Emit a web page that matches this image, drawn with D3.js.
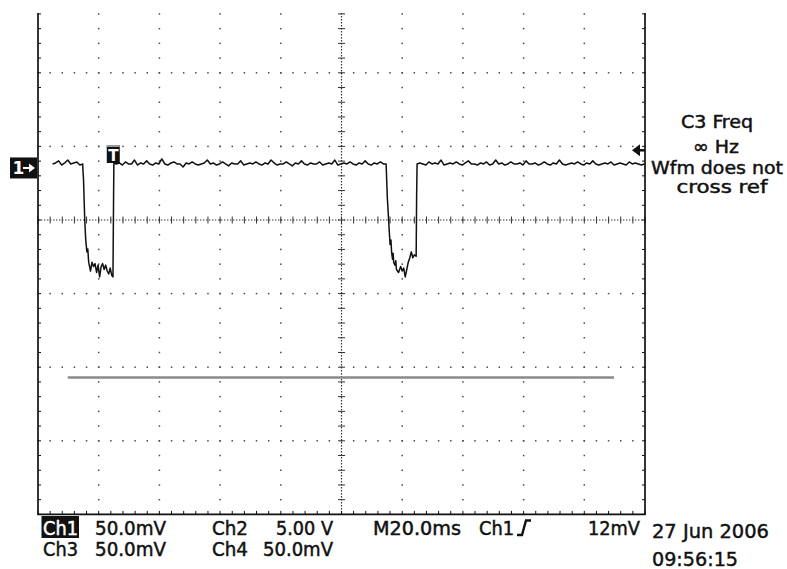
<!DOCTYPE html>
<html>
<head>
<meta charset="utf-8">
<script src="https://cdn.jsdelivr.net/npm/d3@7/dist/d3.min.js"></script>
<style>
  html, body { margin: 0; padding: 0; background: #fff; }
  svg { display: block; }
</style>
</head>
<body>
<svg id="scope" width="787" height="569"></svg>
<script>
// ---- Acquisition settings ----
const timePerDiv = 20;          // ms / div (M20.0ms)
const ch1MvPerDiv = 50;         // mV / div
const refMvPerDiv = 50;         // mV / div of the grey reference trace
const triggerLevelMv = 12;      // Ch1 rising-edge trigger level
const hDivs = 10;
const vDivs = 8;
const ch1OffsetDiv = 0.707;     // Ch1 ground position, divisions above centre
const timeAtLeftMs = -24.8;     // trigger point is t = 0

// ---- Ch1 trace (ms, mV) ----
// baseline before the first pulse, 1 ms steps from -20 ms
const baseAStart = -20;
const baseA = [2.7, 3.4, 4.8, 2.0, 3.4, 5.4, 2.7, 3.4, 4.1, 2.0, 2.7];

// first low pulse, ending on the trigger edge
const pulse1 = [
  [-10.1, 2.7], [-9.8, -8], [-9.4, -35], [-9.1, -48], [-8.7, -57], [-8.4, -55],
  [-8.1, -64], [-7.7, -68], [-7.5, -70], [-7.0, -64], [-6.5, -67], [-6.0, -65],
  [-5.5, -71], [-5.0, -66], [-4.5, -74], [-4.0, -67], [-3.5, -65], [-3.0, -69],
  [-2.5, -66], [-2.0, -70], [-1.5, -72], [-1.0, -68], [-0.5, -73], [-0.1, -74],
  [0.1, -20], [0.2, 3.4]
];

// baseline between the pulses, 1 ms steps from 1 ms
const baseBStart = 1;
const baseB = [
  2.7, 3.4, 2.0, 4.1, 2.7, 2.7, 5.4, 2.0, 3.4, 2.7,
  4.8, 2.7, 2.0, 3.4, 2.7, 6.1, 2.7, 2.0, 3.4, 4.1,
  2.7, 2.7, 0.7, 3.4, 2.7, 4.1, 2.7, 2.0, 2.7, 3.4,
  5.4, 2.7, 3.4, 2.0, 2.7, 4.1, 2.7, 1.4, 3.4, 2.7,
  2.7, 4.8, 2.0, 2.7, 3.4, 2.7, 4.1, 2.7, 2.0, 3.4,
  2.7, 5.4, 3.4, 2.0, 2.7, 2.7, 4.1, 2.7, 1.4, 3.4,
  2.7, 4.8, 2.7, 2.0, 3.4, 2.7, 2.7, 4.1, 2.0, 2.7,
  3.4, 2.7, 5.4, 2.0, 2.7, 3.4, 2.7, 4.1, 2.7, 2.0,
  3.4, 2.7, 4.8, 2.7, 2.0, 3.4, 2.7, 4.1, 2.7
];

// second low pulse
const pulse2 = [
  [89.9, 2.7], [90.3, -20], [90.8, -38], [91.2, -52], [91.5, -49], [91.7, -57],
  [92.0, -62], [92.2, -58], [92.4, -64], [92.8, -66], [93.1, -63], [93.3, -69],
  [94.0, -71], [94.7, -67], [95.2, -70], [95.7, -68], [96.2, -74], [96.7, -69],
  [97.2, -64], [97.7, -61], [98.2, -57], [98.7, -61], [99.2, -59], [99.8, -60],
  [99.95, -20], [100.1, 2.7]
];

// baseline after the second pulse, 1 ms steps from 101 ms
const baseCStart = 101;
const baseC = [
  3.4, 2.7, 2.0, 4.1, 2.7, 3.4, 2.7, 5.4, 2.0, 2.7,
  3.4, 2.7, 4.1, 2.7, 2.0, 3.4, 4.8, 2.7, 2.7, 2.0,
  3.4, 2.7, 4.1, 2.0, 2.7, 5.4, 2.7, 3.4, 2.0, 2.7,
  4.1, 2.7, 2.7, 3.4, 2.0, 4.8, 2.7, 2.7, 3.4, 2.0,
  2.7, 4.1, 2.7, 2.0, 3.4, 2.7, 5.4, 2.7, 2.0, 2.7,
  3.4, 2.7, 4.1, 2.7, 2.0, 3.4, 2.7, 4.8, 2.7, 2.0,
  2.7, 3.4, 2.7, 4.1, 2.0, 2.7, 3.4, 2.7, 2.0, 4.1,
  2.7, 3.4, 2.7, 2.0, 2.7
];

// grey reference trace (ms, mV about screen centre)
const refTrace = [[-15, -107], [165, -107]];

// ---- Readout texts ----
const measLines = ["C3 Freq", "\u221E Hz", "Wfm does not", "cross ref"];
const readRow1 = ["Ch1", "50.0mV", "Ch2", "5.00 V", "M20.0ms", "Ch1", "12mV"];
const readRow2 = ["Ch3", "50.0mV", "Ch4", "50.0mV"];
const dateLines = ["27 Jun 2006", "09:56:15"];

// ---------------------------------------------------------------
const svg = d3.select("#scope");
const FONT = "'Liberation Sans Narrow', 'DejaVu Sans Condensed', 'DejaVu Sans', sans-serif";

const left = 38, right = 645, bottom = 514.4, divH = 73.6, visTop = 13;
const x = d3.scaleLinear()
  .domain([timeAtLeftMs, timeAtLeftMs + hDivs * timePerDiv])
  .range([left, right]);
const xDiv = d3.scaleLinear().domain([0, hDivs]).range([left, right]);
const yDiv = d3.scaleLinear()
  .domain([-vDivs / 2, vDivs / 2])
  .range([bottom, bottom - vDivs * divH]);

const ch1Y = mv => yDiv(mv / ch1MvPerDiv + ch1OffsetDiv);
const refY = mv => yDiv(mv / refMvPerDiv);

svg.append("defs").append("clipPath").attr("id", "screen")
  .append("rect").attr("x", 0).attr("y", visTop).attr("width", 787).attr("height", 569 - visTop);

const scr = svg.append("g").attr("clip-path", "url(#screen)");

// ---- graticule ----
const minorY = d3.range(-vDivs * 5 / 2, vDivs * 5 / 2 + 1).map(m => yDiv(m / 5))
  .filter(v => v >= visTop - 0.5 && v <= bottom + 0.5);
const minorX = d3.range(0, hDivs * 5 + 1).map(n => xDiv(n / 5));
const gridCols = d3.range(1, hDivs).filter(i => i !== hDivs / 2);
const gridRows = d3.range(-vDivs / 2 + 1, vDivs / 2).filter(j => j !== 0)
  .filter(j => yDiv(j) >= visTop);

const dots = scr.append("g").attr("fill", "#4a4a4a");
gridCols.forEach(i => {
  dots.selectAll(null).data(minorY).join("rect")
    .attr("x", xDiv(i) - 0.75).attr("y", d => d - 0.75)
    .attr("width", 1.5).attr("height", 1.5);
});
gridRows.forEach(j => {
  dots.selectAll(null).data(minorX).join("rect")
    .attr("x", d => d - 0.75).attr("y", yDiv(j) - 0.75)
    .attr("width", 1.5).attr("height", 1.5);
});

// centre cross-hairs: dotted lines with minor ticks
const cx = xDiv(hDivs / 2), cy = yDiv(0);
const centre = scr.append("g").attr("stroke", "#333");
centre.append("line").attr("x1", cx).attr("x2", cx).attr("y1", visTop).attr("y2", bottom)
  .attr("stroke-width", 1.2).attr("stroke-dasharray", "1.4 1.6");
centre.append("line").attr("x1", left).attr("x2", right).attr("y1", cy).attr("y2", cy)
  .attr("stroke-width", 1.2).attr("stroke-dasharray", "1.4 1.6");
centre.selectAll(".ty").data(minorY).join("line")
  .attr("x1", cx - 3.5).attr("x2", cx + 3.5).attr("y1", d => d).attr("y2", d => d)
  .attr("stroke-width", 1);
centre.selectAll(".tx").data(minorX).join("line")
  .attr("y1", cy - 3.5).attr("y2", cy + 3.5).attr("x1", d => d).attr("x2", d => d)
  .attr("stroke-width", 1);

// frame and edge ticks
const frame = scr.append("g").attr("stroke", "#111");
frame.append("path")
  .attr("d", `M${left},${visTop}V${bottom}H${right}V${visTop}`)
  .attr("fill", "none").attr("stroke-width", 1.7);
frame.selectAll(".lt").data(minorY).join("line")
  .attr("x1", left).attr("x2", left + 3).attr("y1", d => d).attr("y2", d => d).attr("stroke-width", 1);
frame.selectAll(".rt").data(minorY).join("line")
  .attr("x1", right - 3).attr("x2", right).attr("y1", d => d).attr("y2", d => d).attr("stroke-width", 1);
frame.selectAll(".bt").data(minorX).join("line")
  .attr("x1", d => d).attr("x2", d => d).attr("y1", bottom - 3.5).attr("y2", bottom).attr("stroke-width", 1);

// ---- traces ----
const ch1Data = [].concat(
  baseA.map((v, i) => [baseAStart + i, v]),
  pulse1,
  baseB.map((v, i) => [baseBStart + i, v]),
  pulse2,
  baseC.map((v, i) => [baseCStart + i, v])
);

scr.append("path").datum(refTrace)
  .attr("d", d3.line().x(d => x(d[0])).y(d => refY(d[1])))
  .attr("fill", "none").attr("stroke", "#8a8a8a").attr("stroke-width", 2.6);

scr.append("path").datum(ch1Data)
  .attr("d", d3.line().x(d => x(d[0])).y(d => ch1Y(d[1])))
  .attr("fill", "none").attr("stroke", "#111").attr("stroke-width", 1.5)
  .attr("stroke-linejoin", "round");

// ---- markers ----
// Ch1 ground marker "1→"
const gy = ch1Y(0);
const m1 = svg.append("g");
m1.append("rect").attr("x", 10).attr("y", gy - 10.5).attr("width", 27).attr("height", 21).attr("fill", "#111");
m1.append("text").attr("x", 12.5).attr("y", gy + 6.5).attr("fill", "#fff")
  .attr("font-family", "'DejaVu Sans', sans-serif").attr("font-weight", "bold").attr("font-size", 17).text("1");
m1.append("path").attr("d", `M23,${gy}H30`).attr("stroke", "#fff").attr("stroke-width", 2);
m1.append("path").attr("d", `M35,${gy}L29,${gy - 4.5}L29,${gy + 4.5}Z`).attr("fill", "#fff");

// trigger position marker "T"
const tx = x(0);
const tm = svg.append("g");
tm.append("rect").attr("x", tx - 6.5).attr("y", 145).attr("width", 13).attr("height", 18).attr("fill", "#111");
tm.append("rect").attr("x", tx - 6.5).attr("y", 145).attr("width", 13).attr("height", 2).attr("fill", "#9a9a9a");
tm.append("text").attr("x", tx).attr("y", 160.5).attr("text-anchor", "middle").attr("fill", "#fff")
  .attr("font-family", "'DejaVu Sans', sans-serif").attr("font-weight", "bold").attr("font-size", 15).text("T");

// trigger level marker on the right edge
const ty = ch1Y(triggerLevelMv);
svg.append("path").attr("d", `M632,${ty}L640,${ty - 6}L640,${ty + 6}Z`).attr("fill", "#111");
svg.append("path").attr("d", `M639,${ty}H645`).attr("stroke", "#111").attr("stroke-width", 2.5);

// ---- measurement readout ----
const measPos = [
  { cx: 717, y: 128, w: 72 },
  { cx: 716, y: 152.5, w: 46 },
  { cx: 717, y: 173.5, w: 132 },
  { cx: 722, y: 192.5, w: 91 }
];
svg.append("g").selectAll("text").data(measLines).join("text")
  .attr("x", (d, i) => measPos[i].cx).attr("y", (d, i) => measPos[i].y)
  .attr("text-anchor", "middle")
  .attr("textLength", (d, i) => measPos[i].w).attr("lengthAdjust", "spacingAndGlyphs")
  .attr("font-family", FONT).attr("font-size", 18.5)
  .attr("fill", "#111").attr("stroke", "#111").attr("stroke-width", 0.45)
  .text(d => d);

// ---- status bar ----
const row1Pos = [
  { x: 43, w: 35 }, { x: 95, w: 71 }, { x: 212, w: 36 }, { x: 276, w: 57 },
  { x: 373, w: 88 }, { x: 479, w: 35 }, { x: 588, w: 52 }
];
const row2Pos = [{ x: 43, w: 35 }, { x: 95, w: 71 }, { x: 212, w: 36 }, { x: 263, w: 70 }];
const statusSize = 19;

svg.append("rect").attr("x", 41.5).attr("y", 516).attr("width", 37.5).attr("height", 22).attr("fill", "#111");

svg.append("g").selectAll("text").data(readRow1).join("text")
  .attr("x", (d, i) => row1Pos[i].x).attr("y", 535)
  .attr("textLength", (d, i) => row1Pos[i].w).attr("lengthAdjust", "spacingAndGlyphs")
  .attr("font-family", FONT).attr("font-size", statusSize)
  .attr("fill", (d, i) => i === 0 ? "#fff" : "#111")
  .attr("stroke", (d, i) => i === 0 ? "#fff" : "#111").attr("stroke-width", 0.45)
  .text(d => d);

svg.append("g").selectAll("text").data(readRow2).join("text")
  .attr("x", (d, i) => row2Pos[i].x).attr("y", 555.5)
  .attr("textLength", (d, i) => row2Pos[i].w).attr("lengthAdjust", "spacingAndGlyphs")
  .attr("font-family", FONT).attr("font-size", statusSize)
  .attr("fill", "#111").attr("stroke", "#111").attr("stroke-width", 0.45)
  .text(d => d);

// rising-slope symbol after the trigger source
svg.append("path").attr("d", "M517,535H522L526,520.5H531")
  .attr("fill", "none").attr("stroke", "#111").attr("stroke-width", 2.4);

const datePos = [{ y: 538, w: 117 }, { y: 565.5, w: 86 }];
svg.append("g").selectAll("text").data(dateLines).join("text")
  .attr("x", 652).attr("y", (d, i) => datePos[i].y)
  .attr("textLength", (d, i) => datePos[i].w).attr("lengthAdjust", "spacingAndGlyphs")
  .attr("font-family", FONT).attr("font-size", 19.5)
  .attr("fill", "#111").attr("stroke", "#111").attr("stroke-width", 0.4)
  .text(d => d);
</script>
</body>
</html>
